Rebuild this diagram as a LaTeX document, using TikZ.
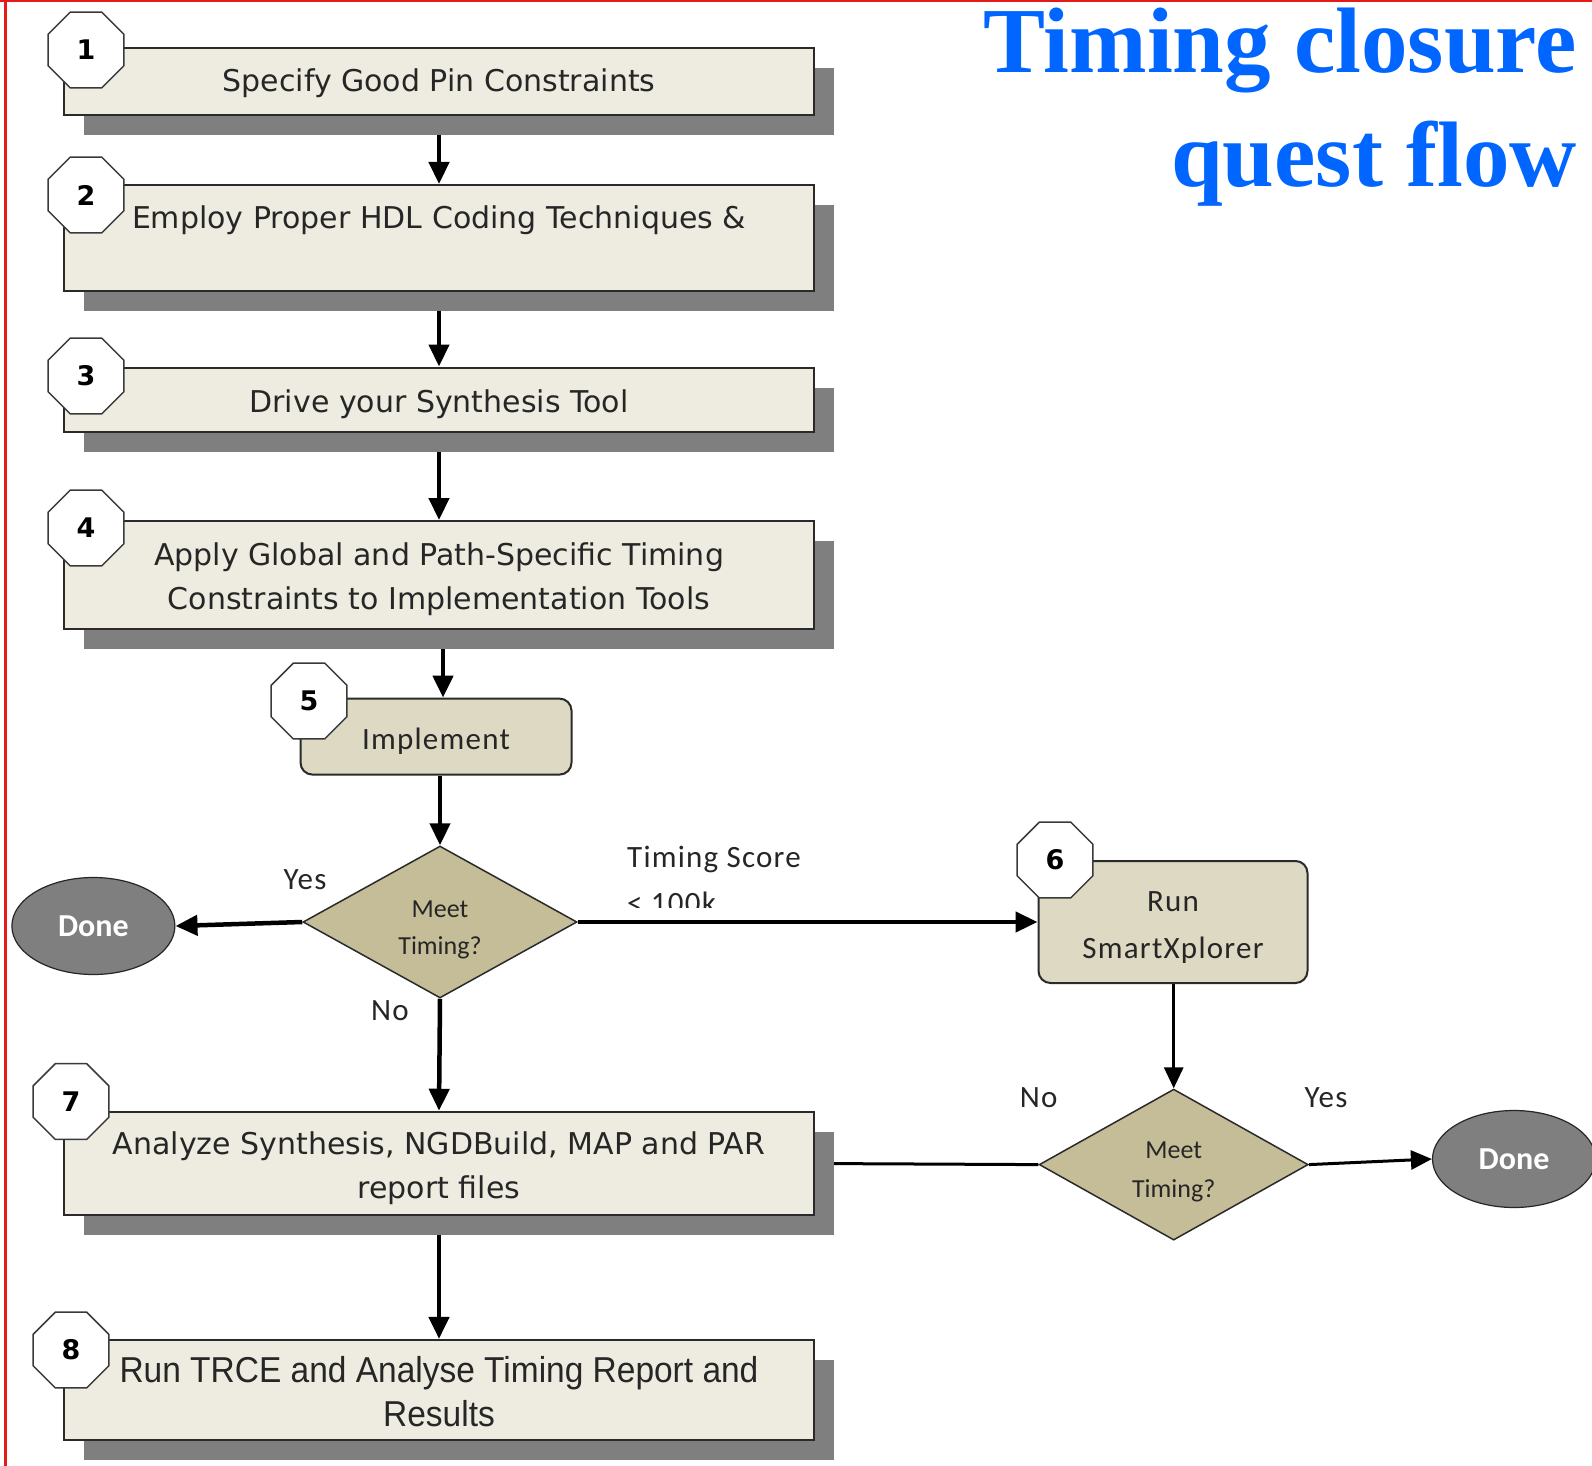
\documentclass[tikz,border=0pt]{standalone}
\usepackage{fontspec}
\usetikzlibrary{arrows.meta,shapes.geometric,shadows,calc}
\newfontfamily\boxfont{DejaVu Sans}
\newfontfamily\calfont{Carlito}
\newfontfamily\calspaced[LetterSpace=4]{Carlito}
\newfontfamily\narrowfont[FakeStretch=0.93]{Liberation Sans}
\newfontfamily\headfont{Liberation Serif}
% struts that lower the first line of a node's text a little
\newcommand\lowstrut[1]{\rule{0pt}{#1}}
% two centred lines, lowered, that take no room of their own
\newcommand\decisiontext[3]{\raisebox{#1}[0pt][0pt]{\begin{tabular}{@{}c@{}}#2\\#3\end{tabular}}}
\definecolor{boxfill}{HTML}{EEECE1}
\definecolor{procfill}{HTML}{DDD9C3}
\definecolor{diafill}{HTML}{C4BD97}
\definecolor{shadowc}{HTML}{7F7F7F}
\definecolor{boxline}{HTML}{2A2A2A}
\definecolor{octline}{HTML}{3A3A3A}
\definecolor{txt}{HTML}{262626}
\definecolor{titleblue}{HTML}{0066FF}
\definecolor{frame}{HTML}{E41B1B}
\pgfdeclarelayer{back}
\pgfsetlayers{back,main}
\begin{document}
\begin{tikzpicture}[x=1pt,y=-1pt,
  stepbox/.style={rectangle, draw=boxline, line width=2pt, fill=boxfill,
    minimum width=750pt, inner sep=0pt, align=center, text=txt,
    font=\boxfont\fontsize{30}{44}\selectfont,
    drop shadow={shadow xshift=20pt, shadow yshift=-20pt, opacity=1, fill=shadowc}},
  procbox/.style={rectangle, rounded corners=12pt, draw=boxline, line width=2pt,
    fill=procfill, inner sep=0pt, align=center, text=txt,
    font=\calspaced\fontsize{31}{47}\selectfont},
  decision/.style={diamond, draw=boxline, line width=1.5pt, fill=diafill,
    inner sep=0pt, text=txt,
    font=\calfont\fontsize{26}{37}\selectfont},
  terminal/.style={ellipse, draw=black!85, line width=1.2pt, fill=shadowc,
    minimum width=163pt, minimum height=97pt, inner sep=0pt, text=white,
    font=\calfont\bfseries\fontsize{32}{32}\selectfont},
  octo/.style={regular polygon, regular polygon sides=8, minimum size=82pt,
    inner sep=0pt, draw=octline, fill=white, line width=1.5pt, text=black,
    font=\boxfont\bfseries\fontsize{27}{27}\selectfont},
  tag/.style={inner sep=0pt, text=txt, font=\calspaced\fontsize{31}{46}\selectfont},
  flow/.style={line width=4.5pt, -{Triangle[length=22pt,width=20pt]}},
  thinflow/.style={line width=3pt, -{Triangle[length=21pt,width=19pt]}},
  title/.style={anchor=base east, inner sep=0pt, text=titleblue,
    font=\headfont\bfseries\fontsize{93}{93}\selectfont}]

\useasboundingbox (0,0) rectangle (1592,1466);
\clip (0,0) rectangle (1592,1466);
\begin{pgfonlayer}{back}
  \fill[white] (0,0) rectangle (1592,1466);
\end{pgfonlayer}

% frame edges
\draw[frame, line width=3pt] (5.5,0) -- (5.5,1466);
\draw[frame, line width=2.5pt] (0,1) -- (1592,1);

% title
\node[title] (title1) at (1577,73) {Timing closure};
\node[title] (title2) at (1577,186) {quest flow};

% main column of steps
\node[stepbox, minimum height=67pt] (b1) at (439,81.5) {\lowstrut{33pt}\strut Specify Good Pin Constraints};
\node[stepbox, minimum height=106pt] (b2) at (439,238)
  {\lowstrut{39pt}\strut Employ Proper HDL Coding Techniques \&\\\strut};
\node[stepbox, minimum height=64pt] (b3) at (439,399.5) {\lowstrut{39pt}\strut Drive your Synthesis Tool};
\node[stepbox, minimum height=108pt] (b4) at (439,575)
  {\lowstrut{39pt}\strut Apply Global and Path-Specific Timing\\\strut Constraints to Implementation Tools};
\node[procbox, minimum width=271pt, minimum height=76pt] (b5) at (436,736.6) {\lowstrut{40pt}\strut Implement};
\node[decision, minimum width=274pt, minimum height=152pt] (d1) at (440,922)
  {\decisiontext{-13pt}{Meet}{Timing?}};
\node[terminal] (done1) at (93.4,926) {Done};
\node[procbox, minimum width=269pt, minimum height=122pt] (b6) at (1173,922)
  {\lowstrut{40pt}\strut Run\\\strut SmartXplorer};
\node[decision, minimum width=269pt, minimum height=151pt, font=\calfont\fontsize{26}{39}\selectfont] (d2) at (1173.7,1164.6)
  {\decisiontext{-12pt}{Meet}{Timing?}};
\node[terminal] (done2) at (1514,1159) {Done};
\node[stepbox, minimum height=103.5pt] (b7) at (439,1163.5)
  {\lowstrut{40pt}\strut Analyze Synthesis, NGDBuild, MAP and PAR\\\strut report files};
\node[stepbox, minimum height=100pt, font=\narrowfont\fontsize{36}{44}\selectfont] (b8) at (439,1390)
  {\lowstrut{43pt}\strut Run TRCE and Analyse Timing Report and\\\strut Results};

% step numbers
\node[octo] (n1) at (86,50) {1};
\node[octo] (n2) at (86,195) {2};
\node[octo] (n3) at (86,376) {3};
\node[octo] (n4) at (86,528) {4};
\node[octo] (n5) at (309,701) {5};
\node[octo] (n6) at (1055,860) {6};
\node[octo] (n7) at (71,1101.6) {7};
\node[octo] (n8) at (71,1350) {8};

% branch labels
\node[tag] (yes1) at (305,880) {Yes};
\node[tag] (no1) at (390,1011) {No};
\node[tag] (no2) at (1038.6,1097.5) {No};
\node[tag] (yes2) at (1326,1097.5) {Yes};
\begin{scope}
  \clip (600,820) rectangle (840,907);
  \node[tag, anchor=west, align=left] (score) at (627,881)
    {\strut Timing Score\\\strut < 100k};
\end{scope}

% connectors
\begin{pgfonlayer}{back}
  \draw[flow] (b1.south) -- (b2.north);
  \draw[flow] (b2.south) -- (b3.north);
  \draw[flow] (b3.south) -- (b4.north);
  \draw[flow] ([xshift=4pt]b4.south) -- ([xshift=4pt]b4.south |- b5.north);
  \draw[flow] (b5.south -| d1.north) -- (d1.north);
  \draw[flow] (d1.west) -- (done1.east);
  \draw[flow] (d1.east) -- (b6.west);
  \draw[flow] (d1.south) -- (b7.north);
  \draw[flow] (b7.south) -- (b8.north);
  \draw[thinflow] (b6.south -| d2.north) -- (d2.north);
  \draw[thinflow] (d2.east) -- (done2.west);
  \draw[line width=3pt] (d2.west) -- (b7.east);
\end{pgfonlayer}
\end{tikzpicture}
\end{document}
